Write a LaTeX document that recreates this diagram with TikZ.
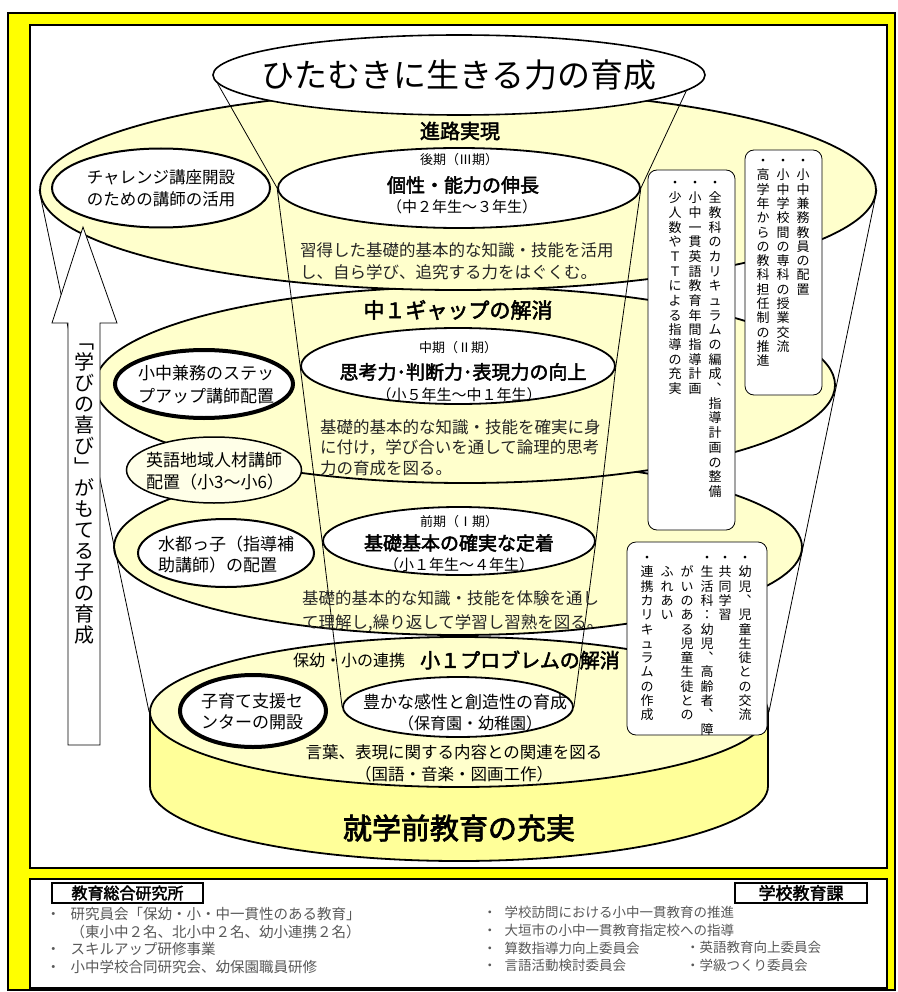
\documentclass[tikz,border=0pt]{standalone}
\usepackage{fontspec}
\setmainfont{Noto Sans CJK JP}[AutoFakeBold=2.5]
\usetikzlibrary{shapes.geometric, positioning}

\definecolor{frameyel}{HTML}{FFFF00}
\definecolor{plateyel}{HTML}{FFFFCC}
\definecolor{cylyel}{HTML}{FFFF99}
\definecolor{eigoyel}{HTML}{FFFFE8}

% one character per row, for the vertical columns
\ExplSyntaxOn
\NewDocumentCommand \tate { O{1.1em} m }
  {
    \vbox:n
      {
        \offinterlineskip
        \tl_map_inline:nn {#2}
          { \hbox_to_wd:nn {1em} { \hss \rule[-.15em]{0pt}{#1} ##1 \hss } }
      }
  }
\ExplSyntaxOff

\begin{document}
\begin{tikzpicture}[x=1pt, y=-1pt]
    \tikzstyle{plate} = [ellipse, draw, line width=1.8pt, fill=plateyel, inner sep=0pt]
    \tikzstyle{oval} = [ellipse, draw, line width=1.8pt, fill=white, inner sep=0pt]
    \tikzstyle{heavyoval} = [oval, line width=4pt]
    \tikzstyle{notebox} = [rectangle, rounded corners=9pt, draw, line width=0.8pt, fill=white, inner sep=0pt]
    \tikzstyle{tatecol} = [anchor=north, inner sep=0pt, font=\fontsize{13}{13}\selectfont]
    \tikzstyle{head} = [inner sep=0pt, font=\bfseries\fontsize{19}{19}\selectfont]
    \tikzstyle{term} = [inner sep=0pt, font=\fontsize{13}{13}\selectfont]
    \tikzstyle{grade} = [inner sep=0pt, font=\fontsize{15}{15}\selectfont]
    \tikzstyle{body} = [inner sep=0pt, anchor=north west, align=left, text=black!85, font=\fontsize{16.5}{22}\selectfont]
    \tikzstyle{sidetxt} = [inner sep=0pt, align=center, font=\fontsize{16.5}{22}\selectfont]
    \tikzstyle{funnel} = [line width=0.8pt]
    \tikzstyle{tablist} = [inner sep=0pt, anchor=north west, align=left, text=black!65, font=\fontsize{13.5}{17.7}\selectfont]
    \tikzstyle{tabhead} = [draw, line width=1.5pt, fill=white, minimum height=20pt, inner sep=0pt, font=\bfseries\fontsize{16}{16}\selectfont]

    \useasboundingbox (0,0) rectangle (897,992);

    % Frame
    \draw[line width=1.2pt, fill=frameyel] (8,13) rectangle (895,990);
    \draw[line width=1.2pt, fill=white] (30,25) rectangle (887,868);
    \draw[line width=1.2pt, fill=white] (30,879) rectangle (887,988);

    % Base cylinder and plates
    \coordinate (cylbot) at (459,786);
    \draw[line width=1.8pt, fill=cylyel] (cylbot) ++(-309,-74) -- ++(0,74)
        arc[start angle=180, end angle=360, x radius=309pt, y radius=75pt] -- ++(0,-74) -- cycle;
    \node[plate, minimum width=618pt, minimum height=150pt] (cyltop) at (459,712) {};
    \node[plate, minimum width=688pt, minimum height=176pt] (tier3) at (458,547) {};
    \node[plate, minimum width=740pt, minimum height=196pt] (tier2) at (465,385) {};
    \node[plate, minimum width=836pt, minimum height=200pt] (tier1) at (458,190) {};

    % Outer cone
    \draw[funnel] (tier1.west) -- (cyltop.west);
    \draw[funnel] (tier1.east) -- (cyltop.east);

    % Ovals
    \node[oval, minimum width=492pt, minimum height=80pt, line width=1.6pt] (title) at (459,75) {};
    \node[oval, minimum width=362pt, minimum height=80pt] (late) at (459,188) {};
    \node[oval, minimum width=314pt, minimum height=76pt] (mid) at (458,366) {};
    \node[oval, minimum width=272pt, minimum height=68pt] (early) at (459,541) {};
    \node[oval, minimum width=230pt, minimum height=60pt] (youji) at (458,707) {};
    \node[oval, minimum width=218pt, minimum height=79pt, line width=2pt] (challenge) at (161,188) {};
    \node[heavyoval, minimum width=178pt, minimum height=68pt] (stepup) at (204,384) {};
    \node[oval, minimum width=175pt, minimum height=66pt, fill=eigoyel, line width=1.5pt] (eigo) at (214,470) {};
    \node[oval, minimum width=176pt, minimum height=68pt, line width=2pt] (suito) at (226,553) {};
    \node[heavyoval, minimum width=146pt, minimum height=72pt] (kosodate) at (253,711) {};

    % Inner funnel
    \draw[funnel] (title.182) -- (late.west) -- (mid.west) -- (early.west) -- (youji.west);
    \draw[funnel] (title.356) -- (late.east) -- (mid.east) -- (early.east) -- (youji.east);

    % Texts
    \node[inner sep=0pt, font=\fontsize{33}{33}\selectfont] (titleTxt) at (title) {ひたむきに生きる力の育成};
    \node[head, font=\bfseries\fontsize{20}{20}\selectfont] (shinro) at (460,131) {進路実現};
    \node[term] (lateTerm) at (459,160) {後期（Ⅲ期）};
    \node[head] (lateHead) at (463,185) {個性・能力の伸長};
    \node[grade] (lateGrade) at (462,207) {（中２年生～３年生）};
    \node[body] (lateBody) at (300,242) {習得した基礎的基本的な知識・技能を活用\\し、自ら学び、追究する力をはぐくむ。};

    \node[head, font=\bfseries\fontsize{21}{21}\selectfont] (gap) at (458,310) {中１ギャップの解消};
    \node[term] (midTerm) at (458,348) {中期（Ⅱ期）};
    \node[head] (midHead) at (463,372) {思考力･判断力･表現力の向上};
    \node[grade] (midGrade) at (459,395) {（小５年生～中１年生）};
    \node[body, font=\fontsize{16.5}{20.5}\selectfont] (midBody) at (320,419) {基礎的基本的な知識・技能を確実に身\\に付け，学び合いを通して論理的思考\\力の育成を図る。};

    \node[term] (earlyTerm) at (459,522) {前期（Ⅰ期）};
    \node[head] (earlyHead) at (459,543) {基礎基本の確実な定着};
    \node[grade] (earlyGrade) at (459,565) {（小１年生～４年生）};
    \node[body, font=\fontsize{16.5}{24}\selectfont] (earlyBody) at (302,590) {基礎的基本的な知識・技能を体験を通し\\て理解し,繰り返して学習し習熟を図る。};

    \node[inner sep=0pt, font=\fontsize{16}{16}\selectfont] (renkei) at (349,660) {保幼・小の連携};
    \node[head, font=\bfseries\fontsize{20}{20}\selectfont] (problem) at (520,660) {小１プロブレムの解消};
    \node[inner sep=0pt, font=\fontsize{17}{17}\selectfont] (youjiHead) at (465,702) {豊かな感性と創造性の育成};
    \node[inner sep=0pt, font=\fontsize{16}{16}\selectfont] (youjiSub) at (470,723) {（保育園・幼稚園）};
    \node[sidetxt] (kotoba) at (454,763) {言葉、表現に関する内容との関連を図る\\（国語・音楽・図画工作）};
    \node[head, font=\bfseries\fontsize{29}{29}\selectfont] (shugaku) at (459,828) {就学前教育の充実};

    \node[sidetxt] (challengeTxt) at (challenge) {チャレンジ講座開設\\のための講師の活用};
    \node[sidetxt, font=\fontsize{17}{23}\selectfont] (stepupTxt) at (206,385) {小中兼務のステッ\\プアップ講師配置};
    \node[sidetxt, align=left, font=\fontsize{17}{22}\selectfont] (eigoTxt) at (215,471) {英語地域人材講師\\配置（小3～小6）};
    \node[sidetxt, align=left, font=\fontsize{17}{21}\selectfont] (suitoTxt) at (226,555) {水都っ子（指導補\\助講師）の配置};
    \node[sidetxt, font=\fontsize{17}{21}\selectfont] (kosodateTxt) at (252,712) {子育て支援セ\\ンターの開設};

    % Notes with vertical text
    \node[notebox, minimum width=77pt, minimum height=245pt] (note1) at (783.5,272.5) {};
    \node[tatecol] (note1a) at (803,153) {\tate{・小中兼務教員の配置}};
    \node[tatecol] (note1b) at (783,153) {\tate{・小中学校間の専科の授業交流}};
    \node[tatecol] (note1c) at (763,153) {\tate{・高学年からの教科担任制の推進}};

    \node[notebox, minimum width=87pt, minimum height=360pt] (note2) at (691.5,350) {};
    \node[tatecol] (note2a) at (715,175) {\tate[1.13em]{・全教科のカリキュラムの編成︑指導計画の整備}};
    \node[tatecol] (note2b) at (695,175) {\tate[1.13em]{・小中一貫英語教育年間指導計画}};
    \node[tatecol] (note2c) at (675,175) {\tate[1.13em]{・少人数やＴＴによる指導の充実}};

    \node[notebox, minimum width=140pt, minimum height=193pt] (note3) at (697,638.5) {};
    \node[tatecol] (note3a) at (745,550) {\tate{・幼児︑児童生徒との交流}};
    \node[tatecol] (note3b) at (725,550) {\tate{・共同学習}};
    \node[tatecol] (note3c) at (707,550) {\tate{・生活科：幼児︑高齢者︑障}};
    \node[tatecol] (note3d) at (687,550) {\tate{　がいのある児童生徒との}};
    \node[tatecol] (note3e) at (667,550) {\tate{　ふれあい}};
    \node[tatecol] (note3f) at (647,550) {\tate{・連携カリキュラムの作成}};

    % Arrow
    \draw[line width=0.8pt, fill=white] (83,227) -- (117,323) -- (100,323) -- (100,745) -- (68,745) -- (68,323) -- (52,323) -- cycle;
    \node[anchor=north, inner sep=0pt, font=\fontsize{20}{20}\selectfont] (arrowTxt) at (84,330) {\tate[1.05em]{﹁学びの喜び﹂がもてる子の育成}};

    % Bottom boxes
    \draw[line width=0.7pt, double, double distance=1.3pt] (40,891) rectangle (456,978);
    \node[tabhead, minimum width=151pt] (kenTab) at (127.5,893) {教育総合研究所};
    \node[tablist, font=\fontsize{14.5}{17.7}\selectfont] (kenList) at (46,907) {・\hspace*{10pt}研究員会「保幼・小・中一貫性のある教育」\\\hspace*{24.5pt}（東小中２名、北小中２名、幼小連携２名）\\・\hspace*{10pt}スキルアップ研修事業\\・\hspace*{10pt}小中学校合同研究会、幼保園職員研修};

    \draw[line width=0.7pt, double, double distance=1.3pt] (473,891) rectangle (870,978);
    \node[tabhead, minimum width=132pt, font=\bfseries\fontsize{17}{17}\selectfont] (gakuTab) at (801,893) {学校教育課};
    \node[tablist] (gakuList) at (483,906) {・\hspace*{8pt}学校訪問における小中一貫教育の推進\\・\hspace*{8pt}大垣市の小中一貫教育指定校への指導\\・\hspace*{8pt}算数指導力向上委員会\\・\hspace*{8pt}言語活動検討委員会};
    \node[tablist] (gakuList2) at (686,941.4) {・英語教育向上委員会\\・学級つくり委員会};
\end{tikzpicture}
\end{document}
